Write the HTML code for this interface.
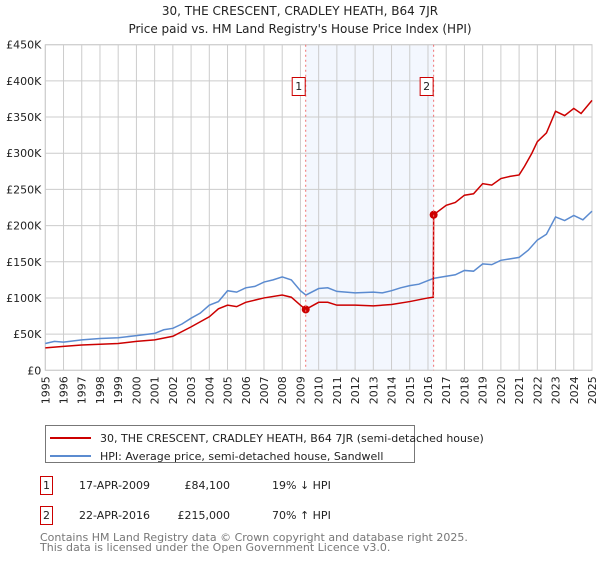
<!DOCTYPE html>
<html><head><meta charset="utf-8"><style>
body{margin:0;background:#fff;font-family:"Liberation Sans","DejaVu Sans",sans-serif;}
svg text{font-family:"DejaVu Sans","Liberation Sans",sans-serif;}
</style></head><body>
<svg id="c" width="600" height="560" xmlns="http://www.w3.org/2000/svg">
<text x="300" y="15" text-anchor="middle" font-size="12" fill="#222">30, THE CRESCENT, CRADLEY HEATH, B64 7JR</text>
<text x="300" y="33" text-anchor="middle" font-size="12" fill="#222">Price paid vs. HM Land Registry's House Price Index (HPI)</text>
<g id="grid"></g><g id="series"></g><g id="ann"></g>
<g>
<rect x="45.5" y="425.5" width="369" height="37" fill="#fff" stroke="#777"/>
<line x1="50" y1="438" x2="91" y2="438" stroke="#cc0000" stroke-width="2"/>
<text x="100" y="442" font-size="11" fill="#222">30, THE CRESCENT, CRADLEY HEATH, B64 7JR (semi-detached house)</text>
<line x1="50" y1="456" x2="91" y2="456" stroke="#5b8bd0" stroke-width="2"/>
<text x="100" y="460" font-size="11" fill="#222">HPI: Average price, semi-detached house, Sandwell</text>
</g>
<g font-size="11" fill="#222">
<rect x="40.5" y="476.5" width="12" height="18" fill="#fff" stroke="#cc0000"/><text x="46.5" y="489" text-anchor="middle">1</text>
<text x="79" y="489">17-APR-2009</text><text x="230" y="489" text-anchor="end">£84,100</text><text x="272" y="489">19% ↓ HPI</text>
<rect x="40.5" y="506.5" width="12" height="18" fill="#fff" stroke="#cc0000"/><text x="46.5" y="519" text-anchor="middle">2</text>
<text x="79" y="519">22-APR-2016</text><text x="230" y="519" text-anchor="end">£215,000</text><text x="272" y="519">70% ↑ HPI</text>
</g>
<text x="40" y="541" font-size="11" fill="#777">Contains HM Land Registry data © Crown copyright and database right 2025.</text>
<text x="40" y="551" font-size="11" fill="#777">This data is licensed under the Open Government Licence v3.0.</text>
</svg>
<script>
const yTicks=[0,50,100,150,200,250,300,350,400,450];
const years=[1995,1996,1997,1998,1999,2000,2001,2002,2003,2004,2005,2006,2007,2008,2009,2010,2011,2012,2013,2014,2015,2016,2017,2018,2019,2020,2021,2022,2023,2024,2025];
const hpiT=[1995,1995.5,1996,1997,1998,1999,2000,2001,2001.5,2002,2002.5,2003,2003.5,2004,2004.5,2005,2005.5,2006,2006.5,2007,2007.5,2008,2008.5,2009,2009.3,2010,2010.5,2011,2012,2013,2013.5,2014,2014.5,2015,2015.5,2016,2016.3,2017,2017.5,2018,2018.5,2019,2019.5,2020,2020.5,2021,2021.5,2022,2022.5,2023,2023.5,2024,2024.5,2025];
const hpiV=[37,40,39,42,44,45,48,51,56,58,64,72,79,90,95,110,108,114,116,122,125,129,125,110,104,113,114,109,107,108,107,110,114,117,119,124,127,130,132,138,137,147,146,152,154,156,166,180,188,212,207,214,208,220];
const propT=[1995,1996,1997,1998,1999,2000,2001,2002,2003,2004,2004.5,2005,2005.5,2006,2007,2008,2008.5,2009,2009.29,2010,2010.5,2011,2012,2013,2014,2015,2016,2016.29,2016.31,2017,2017.5,2018,2018.5,2019,2019.5,2020,2020.5,2021,2021.3,2021.7,2022,2022.5,2023,2023.5,2024,2024.4,2025];
const propV=[31,33,35,36,37,40,42,47,60,74,85,90,88,94,100,104,101,90,84.1,94,94,90,90,89,91,95,100,101,215,228,232,242,244,258,256,265,268,270,282,300,316,328,358,352,362,355,373];
const saleT=[2009.29,2016.31];
const saleV=[84.1,215];
const saleLabels=["1","2"];
const x0=45.3,x1=592,yb=370.3,yt=44.7;
const X=t=>x0+(t-1995)/30*(x1-x0);
const Y=v=>yb-v/450*(yb-yt);
const NS="http://www.w3.org/2000/svg";
function mk(p,tag,a){const e=document.createElementNS(NS,tag);for(const k in a)e.setAttribute(k,a[k]);p.appendChild(e);return e;}
const g=document.getElementById('grid'),s=document.getElementById('series'),an=document.getElementById('ann');
const shade=mk(g,'rect',{x:X(saleT[0]),y:yt,width:X(saleT[1])-X(saleT[0]),height:yb-yt,fill:'#eef3fd',opacity:0.7});


yTicks.forEach(v=>{
 const l=mk(g,'line',{x1:x0,x2:x1,y1:Y(v),y2:Y(v),stroke:'#ccc','stroke-width':1});
 
 
 const t=mk(g,'text',{x:x0-4,y:Y(v)+4,'text-anchor':'end','font-size':11,fill:'#222'});
 t.textContent=v===0?'£0':'£'+v+'K';
 
 
});
years.forEach(yr=>{
 const l=mk(g,'line',{x1:X(yr),x2:X(yr),y1:yt,y2:yb,stroke:'#ccc','stroke-width':1});
 
 
 const tx=X(yr)+4, ty=yb+6;
 const t=mk(g,'text',{x:tx,y:ty,'text-anchor':'end','font-size':11,fill:'#222'});
 t.setAttribute('transform','rotate(-90 '+tx+' '+ty+')');
 t.textContent=yr;
 
 
});
saleT.forEach((t,i)=>{
 const l=mk(an,'line',{x1:X(t),x2:X(t),y1:yt,y2:yb,stroke:'#f07070','stroke-dasharray':'2,3','stroke-width':1});
 
 
 const r=mk(an,'rect',{x:X(t)-13.5,y:77.5,width:13,height:18,fill:'#fff',stroke:'#cc0000'});
 
 
 const tx=mk(an,'text',{x:X(t)-7,y:90,'text-anchor':'middle','font-size':11,fill:'#222'});
 tx.textContent=saleLabels[i];
 
 
});
const hp=mk(s,'polyline',{points:hpiT.map((t,i)=>X(t)+','+Y(hpiV[i])).join(' '),fill:'none',stroke:'#5b8bd0','stroke-width':1.5});


const pp=mk(s,'polyline',{points:propT.map((t,i)=>X(t)+','+Y(propV[i])).join(' '),fill:'none',stroke:'#cc0000','stroke-width':1.5});


saleT.forEach((t,i)=>{
 const c=mk(s,'circle',{cx:X(t),cy:Y(saleV[i]),r:4,fill:'#cc0000'});
 
 
});
const ax=mk(g,'rect',{x:x0,y:yt,width:x1-x0,height:yb-yt,fill:'none',stroke:'#ccc'});


</script>
</body></html>
